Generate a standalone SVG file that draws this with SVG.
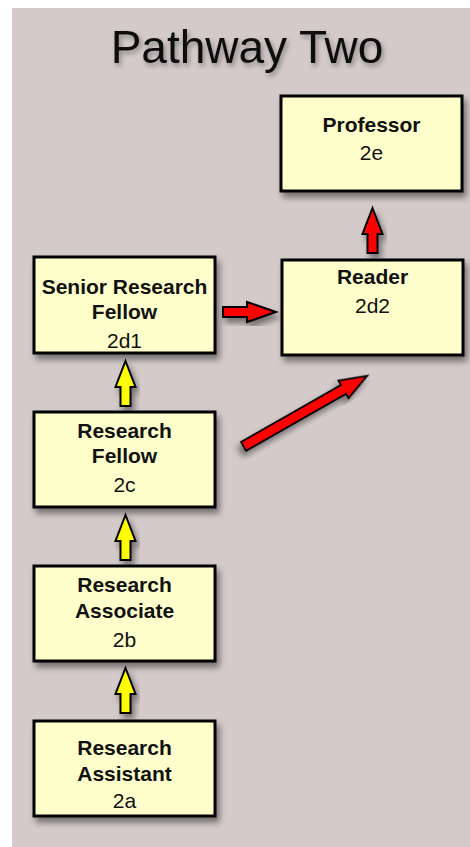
<svg xmlns="http://www.w3.org/2000/svg" width="470" height="847" viewBox="0 0 470 847">
  <style>
    .box { fill: #FFFFCC; stroke: #000; stroke-width: 3; }
    .lbl { font-family: "Liberation Sans", Arial, sans-serif; font-size: 21px; fill: #111; text-anchor: middle; }
    .b { font-weight: bold; }
    .ya { fill: #FFFF00; stroke: #000; stroke-width: 2; stroke-linejoin: miter; }
    .ra { fill: #FF0000; stroke: #000; stroke-width: 2; stroke-linejoin: miter; }
    .title { font-family: "Liberation Sans", Arial, sans-serif; font-size: 46px; fill: #111; text-anchor: middle; }
  </style>
  <defs>
    <filter id="shadow" x="-20%" y="-20%" width="140%" height="140%">
      <feDropShadow dx="3" dy="5" stdDeviation="3" flood-color="#000" flood-opacity="0.45"/>
    </filter>
    <filter id="tshadow" x="-10%" y="-20%" width="120%" height="150%">
      <feDropShadow dx="2" dy="3" stdDeviation="2.5" flood-color="#000" flood-opacity="0.35"/>
    </filter>
    <!-- arrow pointing up, tip at origin -->
    <polygon id="up45" points="0,0 10,26 5,26 5,45 -5,45 -5,26 -10,26"/>
  </defs>

  <rect x="12" y="8" width="458" height="839" fill="#D4CACA"/>

  <text class="title" x="247" y="63" filter="url(#tshadow)">Pathway Two</text>

  <g id="connectors">
    <use href="#up45" class="ya" x="125.5" y="361" filter="url(#shadow)"/>
    <use href="#up45" class="ya" x="125.5" y="515" filter="url(#shadow)"/>
    <use href="#up45" class="ya" x="125.5" y="668" filter="url(#shadow)"/>
    <use href="#up45" class="ra" x="372.5" y="208" filter="url(#shadow)"/>
    <!-- Senior Research Fellow to Reader -->
    <polygon class="ra" filter="url(#shadow)" points="276,312 247,302 247,307 223,307 223,317 247,317 247,322"/>
    <!-- Research Fellow to Reader -->
    <g transform="translate(367,376) rotate(60.3)" filter="url(#shadow)">
      <polygon class="ra" points="0,0 10,27 5,27 5,142 -5,142 -5,27 -10,27"/>
    </g>
  </g>

  <g id="professor">
    <rect class="box" x="281" y="96" width="181" height="95" filter="url(#shadow)"/>
    <text class="lbl b" x="371.5" y="132">Professor</text>
    <text class="lbl" x="371.5" y="160">2e</text>
  </g>

  <g id="reader">
    <rect class="box" x="282" y="260" width="181" height="95" filter="url(#shadow)"/>
    <text class="lbl b" x="372.5" y="284">Reader</text>
    <text class="lbl" x="372.5" y="313">2d2</text>
  </g>

  <g id="senior-research-fellow">
    <rect class="box" x="34" y="257" width="181" height="96" filter="url(#shadow)"/>
    <text class="lbl b" x="124.5" y="294">Senior Research</text>
    <text class="lbl b" x="124.5" y="319">Fellow</text>
    <text class="lbl" x="124.5" y="348">2d1</text>
  </g>

  <g id="research-fellow">
    <rect class="box" x="34" y="412" width="181" height="95" filter="url(#shadow)"/>
    <text class="lbl b" x="124.5" y="438">Research</text>
    <text class="lbl b" x="124.5" y="463">Fellow</text>
    <text class="lbl" x="124.5" y="492">2c</text>
  </g>

  <g id="research-associate">
    <rect class="box" x="34" y="566" width="181" height="95" filter="url(#shadow)"/>
    <text class="lbl b" x="124.5" y="592">Research</text>
    <text class="lbl b" x="124.5" y="618">Associate</text>
    <text class="lbl" x="124.5" y="647">2b</text>
  </g>

  <g id="research-assistant">
    <rect class="box" x="34" y="721" width="181" height="95" filter="url(#shadow)"/>
    <text class="lbl b" x="124.5" y="755">Research</text>
    <text class="lbl b" x="124.5" y="781">Assistant</text>
    <text class="lbl" x="124.5" y="808">2a</text>
  </g>
</svg>
